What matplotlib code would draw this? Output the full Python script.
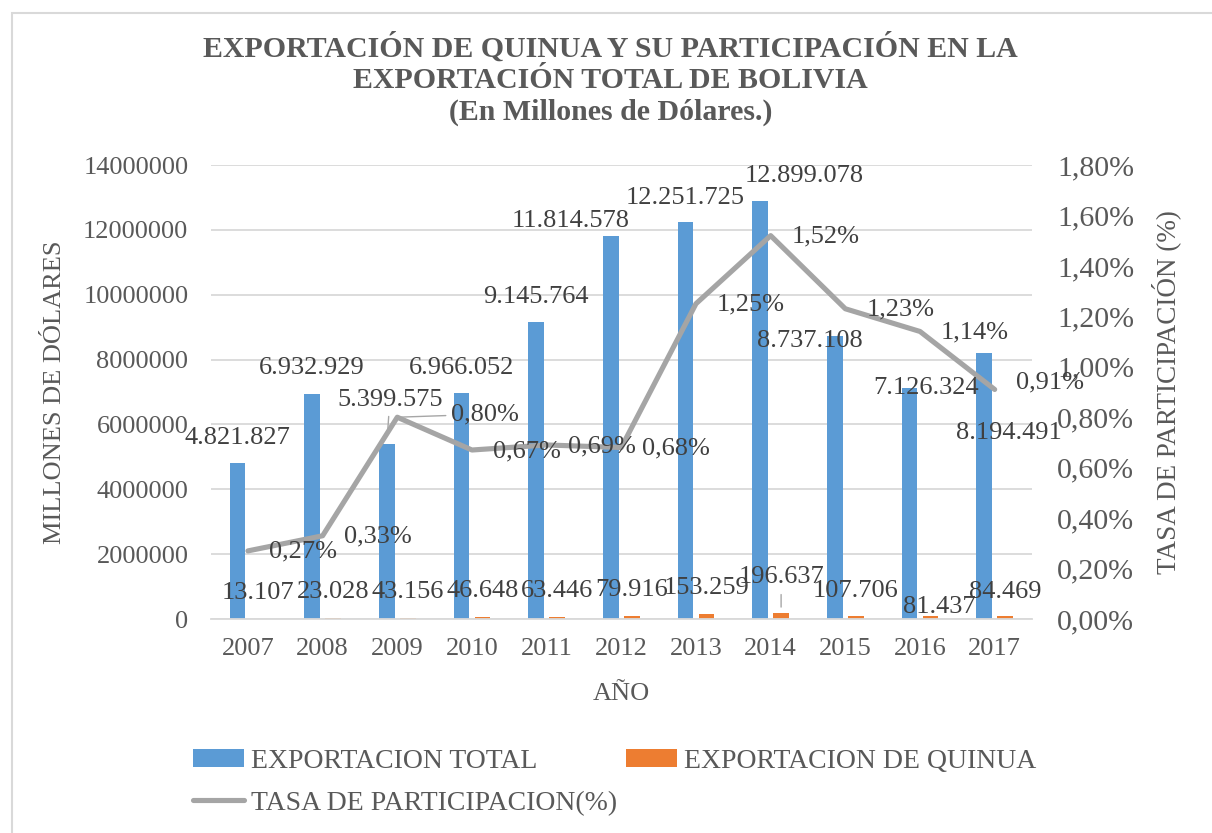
import matplotlib.pyplot as plt
from matplotlib.patches import Rectangle
from matplotlib.ticker import FuncFormatter

plt.rcParams["font.family"] = ["Liberation Serif", "DejaVu Serif"]

YEARS = ["2007", "2008", "2009", "2010", "2011", "2012", "2013", "2014", "2015", "2016", "2017"]
EXPORT_TOTAL = [4821827, 6932929, 5399575, 6966052, 9145764, 11814578,
                12251725, 12899078, 8737108, 7126324, 8194491]
EXPORT_QUINUA = [13107, 23028, 43156, 46648, 63446, 79916,
                 153259, 196637, 107706, 81437, 84469]
TASA = [0.27, 0.33, 0.80, 0.67, 0.69, 0.68, 1.25, 1.52, 1.23, 1.14, 0.91]

TITLE = ["EXPORTACIÓN DE QUINUA Y SU PARTICIPACIÓN EN LA",
         "EXPORTACIÓN TOTAL DE BOLIVIA",
         "(En Millones de Dólares.)"]

BLUE, ORANGE, GRAY = "#5B9BD5", "#ED7D31", "#A5A5A5"
TXT, LBL, GRID = "#595959", "#404040", "#D9D9D9"

# label offsets in pixels (manual moves as in the original)
TOTAL_OFF = [(0, 25), (0, 26), (3, 44), (0, 25), (0, 25), (-40, 15),
             (0, 24), (44, 25), (-25, -5), (17, 0), (25, -80)]
QUIN_OFF = [(0, 26), (0, 26), (0, 26), (0, 26), (0, 26), (0, 26),
            (0, 26), (0, 36), (0, 25), (9, 9), (0, 24)]

def fmt_thousands(v):
    return f"{v:,}".replace(",", ".")

fig = plt.figure(figsize=(12.12, 8.33), dpi=100)
fig.patches.append(Rectangle((12 / 1212, -0.05), 1.1, 1 - 13 / 833 + 0.05,
                             transform=fig.transFigure, fill=False,
                             edgecolor=GRID, linewidth=1.5))

ax = fig.add_axes([210.6 / 1212, 1 - 619 / 833, (1032 - 210.6) / 1212, (619 - 165) / 833])
x = list(range(len(YEARS)))
w = 0.21
b1 = ax.bar([i - 0.14 for i in x], EXPORT_TOTAL, width=w, color=BLUE, zorder=2,
            label="EXPORTACION TOTAL")
b2 = ax.bar([i + 0.14 for i in x], EXPORT_QUINUA, width=w, color=ORANGE, zorder=2,
            label="EXPORTACION DE QUINUA")
ax.set_xlim(-0.5, len(YEARS) - 0.5)
ax.set_ylim(0, 14000000)
ax.set_yticks(range(0, 14000001, 2000000))
ax.yaxis.set_major_formatter(FuncFormatter(lambda v, p: f"{int(v)}"))
ax.set_xticks(x)
ax.set_xticklabels(YEARS)
ax.tick_params(axis="both", length=0, labelsize=19, labelcolor=TXT)
ax.tick_params(axis="y", pad=16)
ax.tick_params(axis="x", pad=14)
ax.grid(axis="y", color=GRID, linewidth=1.3, zorder=0)
ax.set_axisbelow(True)
for s in ["top", "right", "left"]:
    ax.spines[s].set_visible(False)
ax.spines["bottom"].set_color(GRID)
ax.spines["bottom"].set_linewidth(1.3)
ax.set_xlabel("AÑO", fontsize=19, color=TXT, labelpad=16)
ax.set_ylabel("MILLONES DE DÓLARES", fontsize=19, color=TXT, labelpad=12)

ax2 = ax.twinx()
line, = ax2.plot(x, TASA, color=GRAY, linewidth=3.7, zorder=3,
                 label="TASA DE PARTICIPACION(%)", solid_capstyle="round")
ax2.set_ylim(0, 1.8)
ax2.set_yticks([i * 0.2 for i in range(10)])
ax2.yaxis.set_major_formatter(FuncFormatter(lambda v, p: f"{v:.2f}%".replace(".", ",")))
ax2.tick_params(axis="y", length=0, labelsize=21.5, labelcolor=TXT, pad=18)
for s in ax2.spines.values():
    s.set_visible(False)
ax2.set_ylabel("TASA DE PARTICIPACIÓN (%)", fontsize=19.5, color=TXT, labelpad=12)

# data labels
for i, (v, off) in enumerate(zip(EXPORT_TOTAL, TOTAL_OFF)):
    arrow = dict(arrowstyle="-", color="#A6A6A6", lw=1, shrinkA=2, shrinkB=10) if i == 2 else None
    ax2.annotate(fmt_thousands(v), xy=(i - 0.14, v), xycoords=ax.transData,
                 xytext=off, textcoords="offset pixels", ha="center", va="center",
                 fontsize=19, color=LBL, zorder=5, arrowprops=arrow)
for i, (v, off) in enumerate(zip(EXPORT_QUINUA, QUIN_OFF)):
    arrow = dict(arrowstyle="-", color="#A6A6A6", lw=1, shrinkA=3, shrinkB=4) if i == 7 else None
    ax2.annotate(fmt_thousands(v), xy=(i + 0.14, v), xycoords=ax.transData,
                 xytext=off, textcoords="offset pixels", ha="center", va="center",
                 fontsize=19, color=LBL, zorder=5, arrowprops=arrow)
for i, v in enumerate(TASA):
    dx = 88 if i == 2 else 55
    dy = 3 if i == 2 else (7 if i == 10 else -1)
    arrow = dict(arrowstyle="-", color="#A6A6A6", lw=1, shrinkA=2, shrinkB=2) if i == 2 else None
    ax2.annotate(f"{v:.2f}%".replace(".", ","), xy=(i, v), xytext=(dx, dy),
                 textcoords="offset pixels", ha="center", va="center",
                 fontsize=19, color=LBL, zorder=5, arrowprops=arrow)

for txt, yp in zip(TITLE, [48, 80, 112]):
    fig.text(0.504, 1 - yp / 833, txt, ha="center", va="center", fontsize=21.5,
             fontweight="bold", color=TXT)

fig.legend(handles=[b1, line, b2], loc="upper left", bbox_to_anchor=(193 / 1212, 1 - 749 / 833),
           ncol=2, frameon=False, fontsize=20, handlelength=1.85, handleheight=0.6,
           handletextpad=0.25, columnspacing=0.3, labelspacing=0.6, labelcolor=TXT,
           borderaxespad=0, borderpad=0)

fig.savefig("out.png", dpi=100, facecolor="white")
